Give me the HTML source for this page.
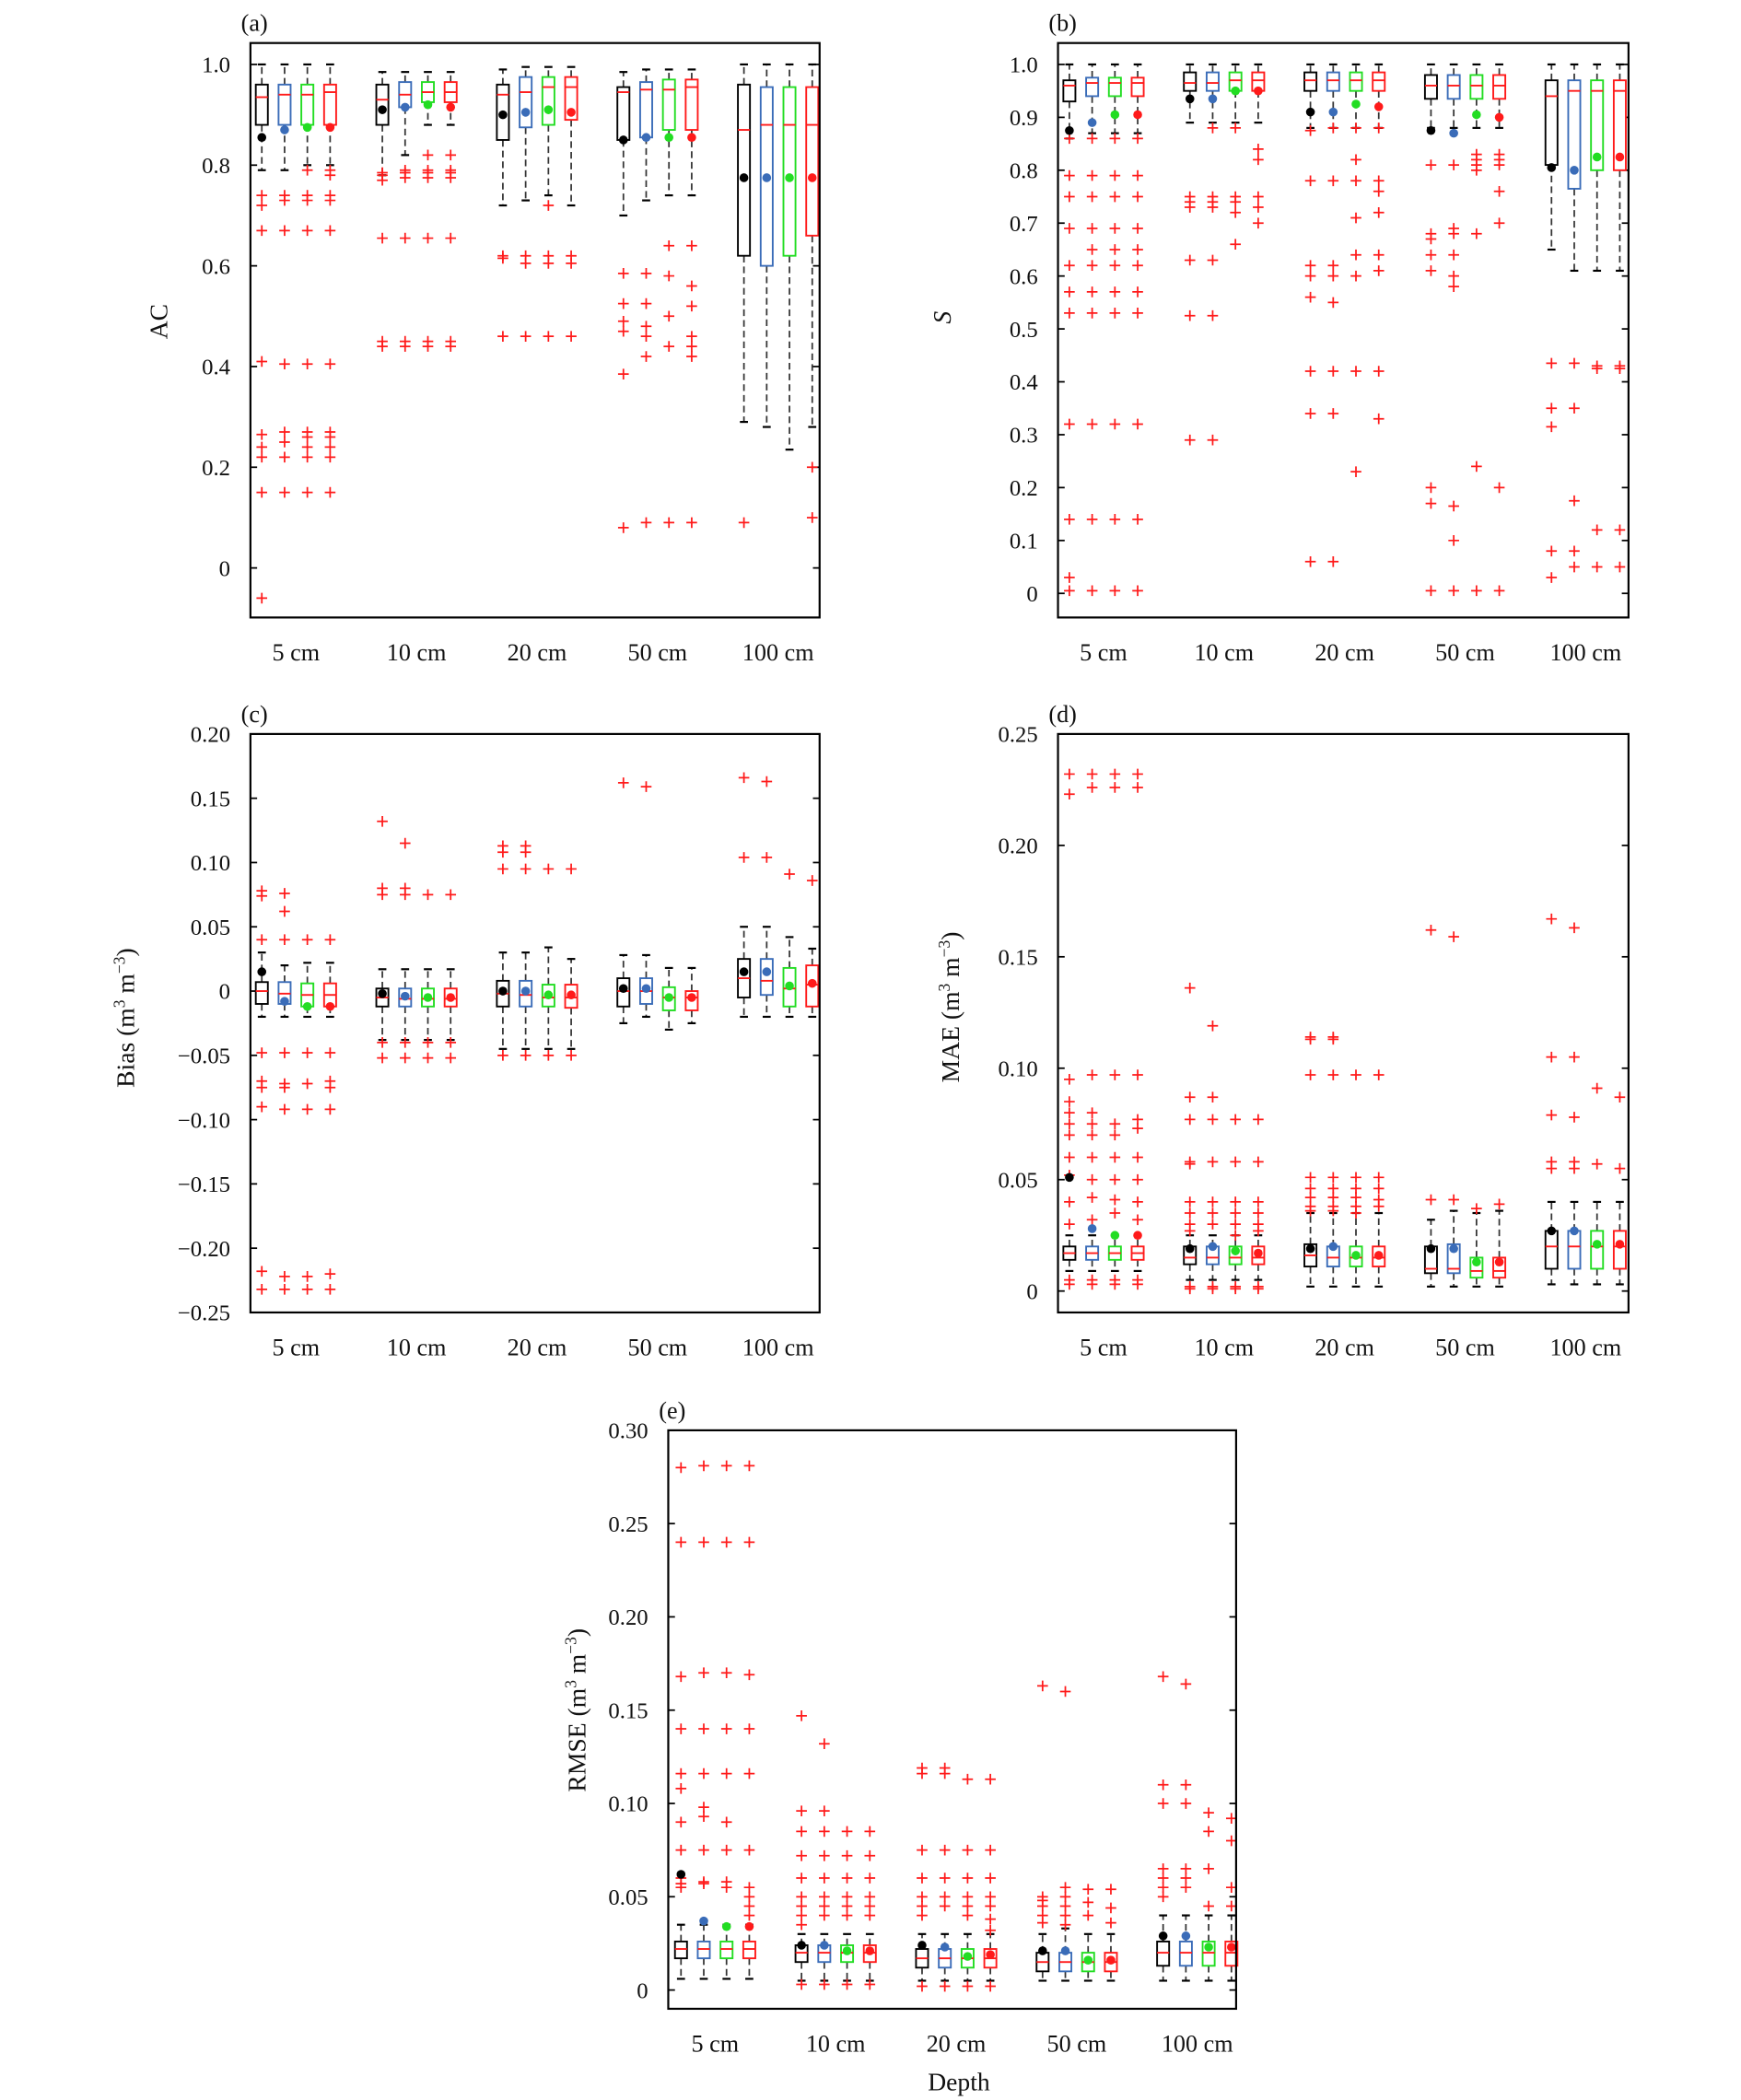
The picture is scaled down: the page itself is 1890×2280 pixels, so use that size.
<!DOCTYPE html>
<html><head><meta charset="utf-8"><style>
html,body{margin:0;padding:0;background:#fff}
svg{display:block}
text{font-family:"Liberation Serif",serif;fill:#111}
</style></head><body>
<svg id="fig" width="1890" height="2280" viewBox="0 0 1300 1568" xmlns="http://www.w3.org/2000/svg"></svg>
<script>
const depths = ["5 cm","10 cm","20 cm","50 cm","100 cm"];
const colors = ["#000000","#3a6cb8","#22dd22","#ff1a1a"];
// ---- panel a : AC ----
const aQ1 = [[.88,.88,.88,.88],[.88,.915,.925,.925],[.85,.875,.88,.89],[.85,.855,.87,.87],[.62,.60,.62,.66]];
const aMed = [[.935,.94,.94,.945],[.93,.94,.945,.945],[.94,.945,.955,.955],[.945,.95,.95,.955],[.87,.88,.88,.88]];
const aQ3 = [[.96,.96,.96,.96],[.96,.965,.965,.965],[.96,.975,.975,.975],[.955,.965,.97,.97],[.96,.955,.955,.955]];
const aLo = [[.79,.79,.80,.80],[.78,.82,.88,.88],[.72,.73,.74,.72],[.70,.73,.74,.74],[.29,.28,.235,.28]];
const aHi = [[1,1,1,1],[.985,.985,.985,.985],[.99,.995,.995,.995],[.985,.99,.99,.99],[1,1,1,1]];
const aMean = [[.855,.87,.875,.875],[.91,.915,.92,.915],[.90,.905,.91,.905],[.85,.855,.855,.855],[.775,.775,.775,.775]];
const aOut = [
 [[.74,.72,.67,.41,.265,.24,.22,.15,-.06],[.74,.73,.67,.405,.27,.25,.22,.15],[.79,.74,.73,.67,.405,.27,.26,.24,.22,.15],[.79,.78,.74,.73,.67,.405,.27,.26,.24,.22,.15]],
 [[.785,.78,.77,.655,.45,.44],[.79,.785,.775,.655,.45,.44],[.82,.79,.785,.775,.655,.45,.44],[.82,.79,.785,.775,.655,.45,.44]],
 [[.62,.615,.46],[.62,.605,.46],[.72,.62,.605,.46],[.62,.605,.46]],
 [[.585,.525,.49,.47,.385,.08],[.585,.525,.48,.46,.42,.09],[.64,.58,.50,.44,.09],[.64,.56,.52,.46,.44,.42,.09]],
 [[.09],[],[],[.20,.10]]];
// ---- panel b : S ----
const bQ1 = [[.93,.94,.94,.94],[.95,.95,.95,.95],[.95,.95,.95,.95],[.935,.935,.935,.935],[.81,.765,.80,.80]];
const bMed = [[.96,.965,.965,.965],[.965,.965,.97,.97],[.97,.97,.97,.97],[.96,.96,.96,.96],[.94,.95,.95,.95]];
const bQ3 = [[.97,.975,.975,.975],[.985,.985,.985,.985],[.985,.985,.985,.985],[.98,.98,.98,.98],[.97,.97,.97,.97]];
const bLo = [[.86,.87,.87,.87],[.89,.89,.89,.89],[.88,.88,.88,.88],[.88,.88,.88,.88],[.65,.61,.61,.61]];
const bHi = [[1,1,1,1],[1,1,1,1],[1,1,1,1],[1,1,1,1],[1,1,1,1]];
const bMean = [[.875,.89,.905,.905],[.935,.935,.95,.95],[.91,.91,.925,.92],[.875,.87,.905,.90],[.805,.80,.825,.825]];
const bOut = [
 [[.86,.79,.75,.69,.62,.57,.53,.32,.14,.03,.005],[.86,.79,.75,.69,.65,.62,.57,.53,.32,.14,.005],[.86,.79,.75,.69,.65,.62,.57,.53,.32,.14,.005],[.86,.79,.75,.69,.65,.62,.57,.53,.32,.14,.005]],
 [[.75,.74,.73,.63,.525,.29],[.88,.75,.74,.73,.63,.525,.29],[.88,.75,.74,.72,.66],[.84,.82,.75,.73,.70]],
 [[.875,.78,.62,.60,.56,.42,.34,.06],[.88,.78,.62,.60,.55,.42,.34,.06],[.88,.82,.78,.71,.64,.60,.42,.23],[.88,.78,.76,.72,.64,.61,.42,.33]],
 [[.81,.68,.67,.64,.61,.20,.17,.005],[.81,.69,.68,.64,.60,.58,.165,.10,.005],[.83,.82,.81,.80,.68,.24,.005],[.83,.82,.81,.76,.70,.20,.005]],
 [[.435,.35,.315,.08,.03],[.435,.35,.175,.08,.05],[.43,.425,.12,.05],[.43,.425,.12,.05]]];
// ---- panel c : Bias ----
const cQ1 = [[-.01,-.01,-.012,-.012],[-.012,-.012,-.012,-.012],[-.012,-.012,-.012,-.013],[-.012,-.01,-.015,-.015],[-.005,-.003,-.012,-.012]];
const cMed = [[0,-.002,-.003,-.003],[-.005,-.006,-.006,-.006],[-.002,-.003,-.005,-.005],[0,0,-.005,-.005],[.01,.008,.002,.005]];
const cQ3 = [[.007,.007,.006,.006],[.002,.002,.002,.002],[.008,.008,.005,.005],[.01,.01,.003,0],[.025,.025,.018,.02]];
const cLo = [[-.02,-.02,-.02,-.02],[-.038,-.038,-.038,-.038],[-.045,-.045,-.045,-.045],[-.025,-.02,-.03,-.025],[-.02,-.02,-.02,-.02]];
const cHi = [[.03,.02,.022,.022],[.017,.017,.017,.017],[.03,.03,.034,.025],[.028,.028,.018,.018],[.05,.05,.042,.033]];
const cMean = [[.015,-.008,-.012,-.012],[-.002,-.004,-.005,-.005],[0,0,-.003,-.003],[.002,.002,-.005,-.005],[.015,.015,.004,.006]];
const cOut = [
 [[.078,.074,.04,-.048,-.07,-.075,-.09,-.218,-.232],[.076,.062,.04,-.048,-.072,-.075,-.092,-.222,-.232],[.04,-.048,-.072,-.092,-.222,-.232],[.04,-.048,-.07,-.075,-.092,-.22,-.232]],
 [[.132,.08,.075,-.04,-.052],[.115,.08,.075,-.04,-.052],[.075,-.04,-.052],[.075,-.04,-.052]],
 [[.113,.108,.095,-.05],[.113,.108,.095,-.05],[.095,-.05],[.095,-.05]],
 [[.162],[.159],[],[]],
 [[.166,.104],[.163,.104],[.091],[.086]]];
// ---- panel d : MAE ----
const dQ1 = [[.014,.014,.014,.014],[.012,.012,.012,.012],[.011,.011,.011,.011],[.008,.008,.006,.006],[.01,.01,.01,.01]];
const dMed = [[.017,.017,.017,.017],[.015,.015,.015,.015],[.016,.015,.015,.015],[.01,.01,.009,.009],[.02,.02,.02,.02]];
const dQ3 = [[.02,.02,.02,.02],[.02,.02,.02,.02],[.021,.02,.02,.02],[.02,.021,.015,.015],[.027,.027,.027,.027]];
const dLo = [[.009,.009,.009,.009],[.005,.005,.005,.005],[.002,.002,.002,.002],[.002,.002,.002,.002],[.003,.003,.003,.003]];
const dHi = [[.025,.025,.025,.025],[.025,.025,.025,.025],[.035,.035,.035,.035],[.032,.036,.035,.036],[.04,.04,.04,.04]];
const dMean = [[.051,.028,.025,.025],[.019,.02,.018,.017],[.019,.02,.016,.016],[.019,.019,.013,.013],[.027,.027,.021,.021]];
const dOut = [
 [[.232,.223,.095,.085,.08,.075,.07,.06,.052,.04,.03,.005,.003],[.232,.226,.097,.08,.075,.07,.06,.05,.042,.032,.005,.003],[.232,.226,.097,.075,.07,.06,.05,.041,.035,.005,.003],[.232,.226,.097,.077,.073,.06,.05,.04,.032,.005,.003]],
 [[.136,.087,.077,.058,.057,.04,.035,.03,.027,.002,.001],[.119,.087,.077,.058,.04,.035,.03,.002,.001],[.077,.058,.04,.035,.03,.025,.002,.001],[.077,.058,.04,.035,.03,.027,.002,.001]],
 [[.114,.113,.097,.051,.046,.042,.038,.036],[.114,.113,.097,.051,.046,.042,.038,.036],[.097,.051,.046,.042,.038,.035],[.097,.051,.046,.041,.038]],
 [[.162,.041],[.159,.041],[.037],[.039]],
 [[.167,.105,.079,.058,.055],[.163,.105,.078,.058,.055],[.091,.057],[.087,.055]]];
// ---- panel e : RMSE ----
const eQ1 = [[.017,.017,.017,.017],[.015,.015,.015,.015],[.012,.012,.012,.012],[.01,.01,.01,.01],[.013,.013,.013,.013]];
const eMed = [[.022,.022,.022,.022],[.02,.02,.02,.02],[.017,.017,.017,.017],[.015,.015,.015,.015],[.02,.02,.02,.02]];
const eQ3 = [[.026,.026,.026,.026],[.024,.024,.024,.024],[.022,.022,.022,.022],[.02,.02,.02,.02],[.026,.026,.026,.026]];
const eLo = [[.006,.006,.006,.006],[.005,.005,.005,.005],[.005,.005,.005,.005],[.005,.005,.005,.005],[.005,.005,.005,.005]];
const eHi = [[.035,.035,.035,.035],[.03,.03,.03,.03],[.03,.03,.03,.03],[.03,.033,.03,.03],[.04,.04,.04,.04]];
const eMean = [[.062,.037,.034,.034],[.024,.024,.021,.021],[.024,.023,.018,.019],[.021,.021,.016,.016],[.029,.029,.023,.023]];
const eOut = [
 [[.28,.24,.168,.14,.116,.108,.09,.075,.06,.057,.055],[.281,.24,.17,.14,.116,.098,.093,.075,.058,.057],[.281,.24,.17,.14,.116,.09,.075,.058,.055],[.281,.24,.169,.14,.116,.075,.055,.05,.045,.04]],
 [[.147,.096,.085,.072,.06,.05,.045,.04,.035,.003],[.132,.096,.085,.072,.06,.05,.045,.04,.003],[.085,.072,.06,.05,.045,.04,.003],[.085,.072,.06,.05,.045,.04,.003]],
 [[.119,.116,.075,.06,.05,.045,.04,.002],[.119,.116,.075,.06,.05,.045,.002],[.113,.075,.06,.05,.045,.04,.002],[.113,.075,.06,.05,.045,.038,.032,.002]],
 [[.163,.05,.048,.045,.04,.036],[.16,.055,.05,.045,.04,.035],[.054,.047,.04],[.054,.044,.036]],
 [[.168,.11,.1,.065,.06,.055,.05],[.164,.11,.1,.065,.06,.055],[.095,.085,.065,.045],[.092,.08,.055,.045]]];

const NS="http://www.w3.org/2000/svg";
const svg=document.getElementById('fig');
function mk(tag,attrs,parent,txt){const e=document.createElementNS(NS,tag);for(const k in attrs)e.setAttribute(k,attrs[k]);if(txt!==undefined)e.textContent=txt;(parent||svg).appendChild(e);return e;}

const panels=[
 {id:'a',x0:187,x1:612,y0:32,y1:461,vTop:1.0,yTop:48,vBot:0,yBot:424,ticks:[0,.2,.4,.6,.8,1.0],fmt:v=>v===0?'0':v.toFixed(1),title:'AC',italic:false,tx:125,ty:240,cx:221,
  Q1:aQ1,Med:aMed,Q3:aQ3,Lo:aLo,Hi:aHi,Mean:aMean,Out:aOut},
 {id:'b',x0:790,x1:1216,y0:32,y1:461,vTop:1.0,yTop:48,vBot:0,yBot:443,ticks:[0,.1,.2,.3,.4,.5,.6,.7,.8,.9,1.0],fmt:v=>v===0?'0':v.toFixed(1),title:'S',italic:true,tx:710,ty:237,cx:824,
  Q1:bQ1,Med:bMed,Q3:bQ3,Lo:bLo,Hi:bHi,Mean:bMean,Out:bOut},
 {id:'c',x0:187,x1:612,y0:548,y1:980,vTop:.2,yTop:548,vBot:-.25,yBot:980,ticks:[-.25,-.2,-.15,-.1,-.05,0,.05,.1,.15,.2],fmt:v=>Math.abs(v)<1e-9?'0':(v<0?'\u2212'+(-v).toFixed(2):v.toFixed(2)),title:'Bias',unit:true,tx:100,ty:760,cx:221,
  Q1:cQ1,Med:cMed,Q3:cQ3,Lo:cLo,Hi:cHi,Mean:cMean,Out:cOut},
 {id:'d',x0:790,x1:1216,y0:548,y1:980,vTop:.25,yTop:548,vBot:0,yBot:964,ticks:[0,.05,.1,.15,.2,.25],fmt:v=>v===0?'0':v.toFixed(2),title:'MAE',unit:true,tx:716,ty:752,cx:824,
  Q1:dQ1,Med:dMed,Q3:dQ3,Lo:dLo,Hi:dHi,Mean:dMean,Out:dOut},
 {id:'e',x0:499,x1:923,y0:1068,y1:1500,vTop:.3,yTop:1068,vBot:0,yBot:1486,ticks:[0,.05,.1,.15,.2,.25,.3],fmt:v=>v===0?'0':v.toFixed(2),title:'RMSE',unit:true,tx:437,ty:1277,cx:534,
  Q1:eQ1,Med:eMed,Q3:eQ3,Lo:eLo,Hi:eHi,Mean:eMean,Out:eOut}
];
const offs=[-25.5,-8.5,8.5,25.5], spacing=90, bw=9;

panels.forEach(p=>{
 const g=mk('g',{});
 
 
 const Y=v=>p.yBot+(v-p.vBot)*(p.yTop-p.yBot)/(p.vTop-p.vBot);
 const X=(gi,si)=>p.cx+gi*spacing+offs[si];
 const lab=mk('text',{x:p.x0-7,y:p.y0-9,'font-size':18,'text-anchor':'start'},g,'('+p.id+')');
 
 
 // ticks
 p.ticks.forEach(t=>{
  const y=Y(t);
  mk('line',{x1:p.x0,x2:p.x0+5,y1:y,y2:y,stroke:'#000','stroke-width':1.2},g);
  mk('line',{x1:p.x1-5,x2:p.x1,y1:y,y2:y,stroke:'#000','stroke-width':1.2},g);
  const tl=mk('text',{x:p.x0-15,y:y+6,'font-size':17,'text-anchor':'end'},g,p.fmt(t));
  
  
 });
 depths.forEach((d,gi)=>{
  const xl=mk('text',{x:p.cx+gi*spacing,y:p.y1+32,'font-size':18,'text-anchor':'middle'},g,d);
  
  
 });
 // y title
 const tt=mk('text',{x:p.tx,y:p.ty,'font-size':19,'text-anchor':'middle',transform:`rotate(-90 ${p.tx} ${p.ty})`,'font-style':p.italic?'italic':'normal'},g);
 
 
 if(p.unit){
  mk('tspan',{},tt,p.title+' (m');
  mk('tspan',{'baseline-shift':'super','font-size':12},tt,'3');
  mk('tspan',{},tt,' m');
  mk('tspan',{'baseline-shift':'super','font-size':12},tt,'\u22123');
  mk('tspan',{},tt,')');
 } else tt.textContent=p.title;
 // boxes
 for(let gi=0;gi<5;gi++)for(let si=0;si<4;si++){
  const bx=mk('g',{},g);
  
  
  const x=X(gi,si),c=colors[si];
  const q1=Y(p.Q1[gi][si]),q3=Y(p.Q3[gi][si]),lo=Y(p.Lo[gi][si]),hi=Y(p.Hi[gi][si]);
  mk('line',{x1:x,x2:x,y1:q3,y2:hi,stroke:'#333','stroke-width':1.2,'stroke-dasharray':'5,3'},bx);
  mk('line',{x1:x,x2:x,y1:q1,y2:lo,stroke:'#333','stroke-width':1.2,'stroke-dasharray':'5,3'},bx);
  mk('line',{x1:x-3,x2:x+3,y1:hi,y2:hi,stroke:'#000','stroke-width':1.5},bx);
  mk('line',{x1:x-3,x2:x+3,y1:lo,y2:lo,stroke:'#000','stroke-width':1.5},bx);
  mk('rect',{x:x-bw/2,y:q3,width:bw,height:Math.max(q1-q3,1),fill:'#fff',stroke:c,'stroke-width':1.3},bx);
  const m=Y(p.Med[gi][si]);
  mk('line',{x1:x-bw/2,x2:x+bw/2,y1:m,y2:m,stroke:'#ff1a1a','stroke-width':1.3},bx);
  p.Out[gi][si].forEach(v=>{
   const y=Y(v);
   mk('path',{d:`M${x-4} ${y}H${x+4}M${x} ${y-4}V${y+4}`,stroke:'#ff1a1a','stroke-width':1.2,fill:'none'},bx);
  });
  mk('circle',{cx:x,cy:Y(p.Mean[gi][si]),r:3.3,fill:c},bx);
 }
 const fr=mk('rect',{x:p.x0,y:p.y0,width:p.x1-p.x0,height:p.y1-p.y0,fill:'none',stroke:'#000','stroke-width':1.5},g);
 
 
});
const dl=mk('text',{x:716,y:1561,'font-size':19,'text-anchor':'middle'},svg,'Depth');


</script>
</body></html>
